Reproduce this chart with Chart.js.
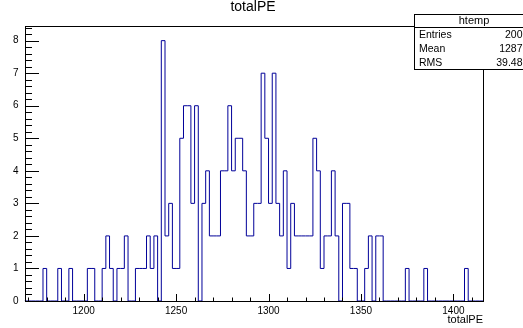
<!DOCTYPE html>
<html>
<head>
<meta charset="utf-8">
<script src="https://cdn.jsdelivr.net/npm/chart.js@4.4.0/dist/chart.umd.min.js"></script>
<style>
  html, body { margin: 0; padding: 0; background: #fff; }
  canvas { display: block; }
</style>
</head>
<body>
<canvas id="myChart" width="523" height="328"></canvas>
<script>
const histName = "htemp";
const histTitle = "totalPE";
const xAxisTitle = "totalPE";

// binning of htemp: 124 bins of width 2
const xLow = 1168;
const xHigh = 1416;
const binWidth = 2;
const yMax = 8.45;

// bin contents, left to right
const counts = [
	0, 0, 0, 0, 0, 0, 1, 0, 0, 0,
	1, 0, 0, 1, 0, 0, 0, 0, 1, 1,
	0, 0, 1, 2, 1, 0, 1, 1, 2, 0,
	0, 1, 1, 1, 2, 1, 2, 0, 8, 2,
	3, 1, 1, 5, 6, 6, 3, 6, 0, 3,
	4, 2, 2, 2, 4, 4, 6, 4, 5, 5,
	4, 2, 2, 3, 3, 7, 5, 3, 7, 3,
	2, 4, 1, 3, 2, 2, 2, 2, 2, 5,
	4, 1, 2, 2, 4, 2, 0, 3, 3, 1,
	1, 0, 0, 1, 2, 0, 2, 2, 0, 0,
	0, 0, 0, 0, 1, 0, 0, 0, 0, 1,
	0, 0, 0, 0, 0, 0, 0, 0, 0, 0,
	1, 0, 0, 0
];

const xTickLabels = [1200, 1250, 1300, 1350, 1400];
const yTickLabels = [0, 1, 2, 3, 4, 5, 6, 7, 8];
const statLabels = ["Entries", "Mean", "RMS"];
const statValues = ["200", "1287", "39.48"];

const fontName = "'Liberation Sans', Arial, sans-serif";

// outline points at bin edges, drawn as steps
const points = counts.map((c, i) => ({ x: xLow + i * binWidth, y: c }));
points.push({ x: xHigh, y: counts[counts.length - 1] });

// frame, inward ticks, title and stats box like a ROOT canvas
const rootDecor = {
	id: "rootDecor",
	afterDatasetsDraw(chart) {
		const ctx = chart.ctx;
		const area = chart.chartArea;
		const xs = chart.scales.x;
		const ys = chart.scales.y;
		const L = Math.round(area.left) + 0.5;
		const R = Math.round(area.right) + 0.5;
		const T = Math.round(area.top) + 0.5;
		const B = Math.round(area.bottom) + 0.5;

		ctx.save();
		ctx.strokeStyle = "#000";
		ctx.lineWidth = 1;
		ctx.strokeRect(L, T, R - L, B - T);

		ctx.beginPath();
		// x ticks, every 10, longer on 50
		for (let v = 1170; v <= 1410; v += 10) {
			const px = Math.round(xs.getPixelForValue(v)) + 0.5;
			const len = v % 50 === 0 ? 7.5 : 4;
			ctx.moveTo(px, B);
			ctx.lineTo(px, B - len);
		}
		// y ticks, every 0.2, longer on integers
		for (let k = 0; k <= 42; k++) {
			const v = k / 5;
			const py = Math.round(ys.getPixelForValue(v)) + 0.5;
			const len = k % 5 === 0 ? 13.5 : 6.5;
			ctx.moveTo(L, py);
			ctx.lineTo(L + len, py);
		}
		ctx.stroke();

		// title
		ctx.fillStyle = "#000";
		ctx.font = "14px " + fontName;
		ctx.textAlign = "center";
		ctx.textBaseline = "middle";
		ctx.fillText(histTitle, 253, 7);

		// stats box
		const bx = 414.5, by = 14.5, bw = 120, bh = 55;
		ctx.fillStyle = "#fff";
		ctx.fillRect(bx, by, bw, bh);
		ctx.strokeRect(bx, by, bw, bh);
		ctx.beginPath();
		ctx.moveTo(bx, 27.5);
		ctx.lineTo(bx + bw, 27.5);
		ctx.stroke();

		ctx.fillStyle = "#000";
		ctx.font = "11px " + fontName;
		ctx.textAlign = "center";
		ctx.fillText(histName, 474, 21);
		ctx.font = "10.5px " + fontName;
		statLabels.forEach((lab, i) => {
			const y = 35.5 + i * 14;
			ctx.textAlign = "left";
			ctx.fillText(lab, 419, y);
			ctx.textAlign = "right";
			ctx.fillText(statValues[i], 522.5, y);
		});
		ctx.restore();
	}
};

const ctx = document.getElementById("myChart").getContext("2d");
const myChart = new Chart(ctx, {
	type: "line",
	data: {
		datasets: [
			{
				label: histName,
				data: points,
				stepped: "after",
				borderColor: "rgb(0, 0, 153)",
				borderWidth: 1,
				pointRadius: 0,
				fill: false,
			},
		],
	},
	options: {
		responsive: false,
		animation: false,
		layout: { padding: { top: 26, right: 40, left: 0, bottom: 0 } },
		plugins: {
			legend: { display: false },
			tooltip: { enabled: false },
		},
		scales: {
			x: {
				type: "linear",
				min: xLow,
				max: xHigh,
				grid: { display: false, drawTicks: false },
				border: { display: false },
				afterBuildTicks: (s) => {
					s.ticks = xTickLabels.map((v) => ({ value: v }));
				},
				afterFit: (s) => {
					s.height = 27;
				},
				ticks: {
					color: "#000",
					font: { family: fontName, size: 10 },
					padding: 4,
					maxRotation: 0,
					autoSkip: false,
					callback: (v) => String(v),
				},
				title: {
					display: true,
					text: xAxisTitle,
					align: "end",
					color: "#000",
					font: { family: fontName, size: 11 },
					padding: { top: 0, bottom: 1 },
				},
			},
			y: {
				type: "linear",
				min: 0,
				max: yMax,
				grid: { display: false, drawTicks: false },
				border: { display: false },
				afterBuildTicks: (s) => {
					s.ticks = yTickLabels.map((v) => ({ value: v }));
				},
				afterFit: (s) => {
					s.width = 24.5;
				},
				ticks: {
					color: "#000",
					font: { family: fontName, size: 10 },
					padding: 6,
					callback: (v) => String(v),
				},
			},
		},
	},
	plugins: [rootDecor],
});
</script>
</body>
</html>
